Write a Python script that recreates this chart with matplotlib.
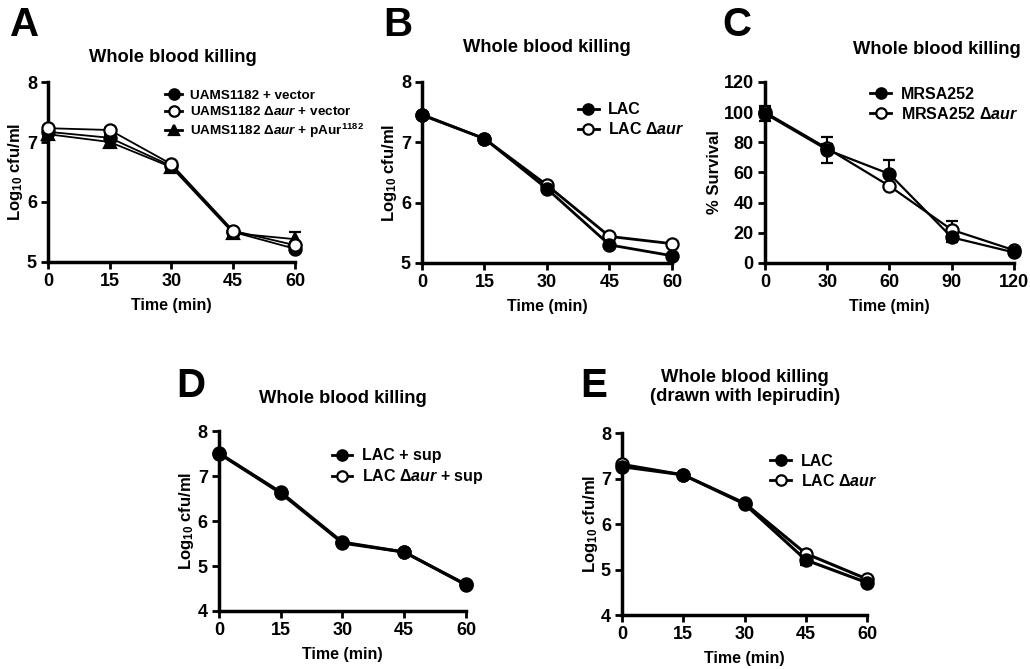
import matplotlib
matplotlib.use('Agg')
import matplotlib.pyplot as plt
from matplotlib.lines import Line2D

plt.rcParams['font.family'] = ['Liberation Sans', 'DejaVu Sans']
plt.rcParams['font.weight'] = 'bold'
plt.rcParams['mathtext.fontset'] = 'custom'
plt.rcParams['mathtext.rm'] = 'Liberation Sans:bold'
plt.rcParams['mathtext.it'] = 'Liberation Sans:bold:italic'
plt.rcParams['mathtext.bf'] = 'Liberation Sans:bold'

# panel A
time_a = [0, 15, 30, 45, 60]
a_vec = [7.17, 7.07, 6.60, 5.50, 5.22]
a_vec_err = [0.04, 0.04, 0.03, 0.03, 0.03]
a_aur = [7.23, 7.20, 6.63, 5.52, 5.28]
a_aur_err = [0.03, 0.03, 0.03, 0.03, 0.05]
a_comp = [7.13, 7.00, 6.58, 5.48, 5.38]
a_comp_err = [0.04, 0.07, 0.03, 0.03, 0.12]

# panel B
time_b = [0, 15, 30, 45, 60]
b_lac = [7.45, 7.06, 6.23, 5.30, 5.12]
b_aur = [7.46, 7.06, 6.29, 5.44, 5.32]

# panel C
time_c = [0, 30, 60, 90, 120]
c_mrsa = [99, 75, 59, 17, 7]
c_mrsa_err = [5, 8.5, 9, 3, 1]
c_aur = [100, 76, 51, 22, 8.5]
c_aur_err = [3, 3, 2, 6, 1]

# panel D
time_d = [0, 15, 30, 45, 60]
d_lac = [7.50, 6.62, 5.51, 5.31, 4.58]
d_aur = [7.51, 6.64, 5.53, 5.31, 4.59]

# panel E
time_e = [0, 15, 30, 45, 60]
e_lac = [7.26, 7.08, 6.44, 5.21, 4.71]
e_lac_err = [0.04, 0.03, 0.03, 0.12, 0.03]
e_aur = [7.31, 7.08, 6.46, 5.35, 4.79]
e_aur_err = [0.04, 0.03, 0.03, 0.04, 0.03]

fig = plt.figure(figsize=(10.3, 6.69), dpi=100)


def setup(ax, xt, yt, ylabel):
    ax.set_xlim(xt[0], xt[-1])
    ax.set_ylim(yt[0], yt[-1])
    ax.set_xticks(xt)
    ax.set_yticks(yt)
    for s in ['top', 'right']:
        ax.spines[s].set_visible(False)
    for s in ['left', 'bottom']:
        ax.spines[s].set_linewidth(2.5)
    ax.tick_params(direction='out', length=5, width=2, labelsize=13, pad=3)
    for lab in ax.get_xticklabels() + ax.get_yticklabels():
        lab.set_fontweight('bold')
    ax.set_xlabel('Time (min)', fontsize=11.5, fontweight='bold', labelpad=6)
    ax.set_ylabel(ylabel, fontsize=12, fontweight='bold', labelpad=1)


def series(ax, x, y, err, marker, face, lw, ms=8.8):
    ax.errorbar(x, y, yerr=err, color='black', lw=lw, marker=marker, ms=ms,
                mfc=face, mec='black', mew=1.6, capsize=4, elinewidth=1.5,
                capthick=1.5, clip_on=False, zorder=3)


def legend(ax, labels, markers, faces, x, y, size=10):
    handles = [Line2D([], [], color='black', lw=2, marker=m, ms=7.5, mfc=f,
                      mec='black', mew=1.6) for m, f in zip(markers, faces)]
    ax.legend(handles, labels, loc='upper left', bbox_to_anchor=(x, y),
              bbox_transform=fig.transFigure, frameon=False, fontsize=size,
              handlelength=1.3, handletextpad=0.6, labelspacing=0.25,
              borderpad=0, borderaxespad=0)


ylog = 'Log$_{10}$ cfu/ml'

# A
ax = fig.add_axes([0.0466, 0.6084, 0.2398, 0.269])
series(ax, time_a, a_vec, a_vec_err, 'o', 'black', 1.3)
series(ax, time_a, a_comp, a_comp_err, '^', 'black', 1.3, ms=8)
series(ax, time_a, a_aur, a_aur_err, 'o', 'white', 1.3)
setup(ax, [0, 15, 30, 45, 60], [5, 6, 7, 8], ylog)
legend(ax, ['UAMS1182 + vector', 'UAMS1182 Δ$\\mathit{aur}$ + vector',
            'UAMS1182 Δ$\\mathit{aur}$ + pAur$^{1182}$'],
       ['o', 'o', '^'], ['black', 'white', 'black'], 0.160, 0.866, size=9.7)

# B
ax = fig.add_axes([0.4097, 0.6069, 0.2427, 0.2706])
series(ax, time_b, b_aur, None, 'o', 'white', 2)
series(ax, time_b, b_lac, None, 'o', 'black', 2)
setup(ax, [0, 15, 30, 45, 60], [5, 6, 7, 8], ylog)
legend(ax, ['LAC', 'LAC Δ$\\mathit{aur}$'], ['o', 'o'], ['black', 'white'],
       0.561, 0.847, size=11.5)

# C
ax = fig.add_axes([0.7427, 0.6069, 0.2417, 0.2706])
series(ax, time_c, c_aur, c_aur_err, 'o', 'white', 1.6)
series(ax, time_c, c_mrsa, c_mrsa_err, 'o', 'black', 1.6)
setup(ax, [0, 30, 60, 90, 120], [0, 20, 40, 60, 80, 100, 120], '% Survival')
legend(ax, ['MRSA252', 'MRSA252 Δ$\\mathit{aur}$'], ['o', 'o'],
       ['black', 'white'], 0.845, 0.870, size=11.5)

# D
ax = fig.add_axes([0.2126, 0.0867, 0.2398, 0.269])
series(ax, time_d, d_aur, None, 'o', 'white', 2.2)
series(ax, time_d, d_lac, None, 'o', 'black', 2.2)
setup(ax, [0, 15, 30, 45, 60], [4, 5, 6, 7, 8], ylog)
legend(ax, ['LAC + sup', 'LAC Δ$\\mathit{aur}$ + sup'], ['o', 'o'],
       ['black', 'white'], 0.322, 0.330, size=11.5)

# E
ax = fig.add_axes([0.6039, 0.0807, 0.2379, 0.272])
series(ax, time_e, e_aur, e_aur_err, 'o', 'white', 2.2)
series(ax, time_e, e_lac, e_lac_err, 'o', 'black', 2.2)
setup(ax, [0, 15, 30, 45, 60], [4, 5, 6, 7, 8], ylog)
legend(ax, ['LAC', 'LAC Δ$\\mathit{aur}$'], ['o', 'o'], ['black', 'white'],
       0.748, 0.322, size=11.5)

# titles and panel letters
tkw = dict(ha='center', va='center', fontsize=13.2, fontweight='bold')
fig.text(173 / 1030, 1 - 58 / 669, 'Whole blood killing', **tkw)
fig.text(547 / 1030, 1 - 48 / 669, 'Whole blood killing', **tkw)
fig.text(937 / 1030, 1 - 50 / 669, 'Whole blood killing', **tkw)
fig.text(343 / 1030, 1 - 399 / 669, 'Whole blood killing', **tkw)
fig.text(745 / 1030, 1 - 387 / 669, 'Whole blood killing\n(drawn with lepirudin)',
         linespacing=1.1, **tkw)

lkw = dict(ha='left', va='center', fontsize=29, fontweight='bold')
fig.text(10 / 1030, 1 - 25 / 669, 'A', **lkw)
fig.text(383 / 1030, 1 - 25 / 669, 'B', **lkw)
fig.text(722 / 1030, 1 - 25 / 669, 'C', **lkw)
fig.text(176 / 1030, 1 - 386 / 669, 'D', **lkw)
fig.text(580 / 1030, 1 - 386 / 669, 'E', **lkw)

fig.savefig('out.png', dpi=100)
